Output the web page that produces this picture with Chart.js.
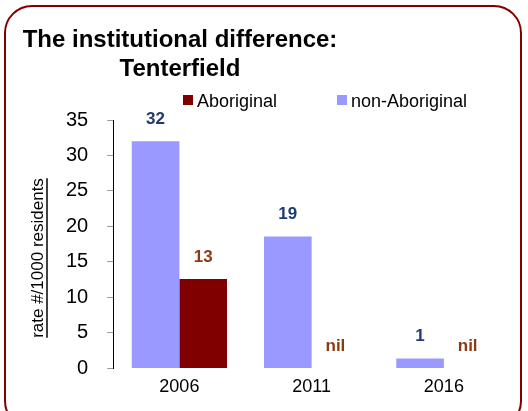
<!DOCTYPE html>
<html lang="en">
<head>
  <meta charset="UTF-8" />
  <title>The institutional difference: Tenterfield</title>
  <script src="https://cdn.jsdelivr.net/npm/chart.js"></script>
  <style>
    body {
      margin: 0;
      background: #fff;
      overflow: hidden;
    }
    .wrap {
      position: relative;
      width: 528px;
      height: 411px;
      overflow: hidden;
    }
    .frame {
      position: absolute;
      left: 4px;
      top: 5px;
      width: 514px;
      height: 420px;
      border: 2.5px solid #800000;
      border-radius: 28px;
      pointer-events: none;
    }
  </style>
</head>
<body>
  <div class="wrap">
    <canvas id="chart" width="528" height="411"></canvas>
    <div class="frame"></div>
  </div>

  <script>
    const years = ["2006", "2011", "2016"];
    const nonAboriginal = [32, 18.6, 1.4];
    const aboriginal = [12.6, 0, 0];
    const titleLines = ["The institutional difference:", "Tenterfield"];
    const axisTitle = "rate #/1000 residents";

    const FONT = '"Liberation Sans", Arial, sans-serif';
    Chart.defaults.font.family = FONT;
    Chart.defaults.color = "#000";

    // value labels above bars, "nil" where rate is zero
    const valueLabels = {
      id: "valueLabels",
      afterDatasetsDraw(chart) {
        const ctx = chart.ctx;
        ctx.save();
        ctx.font = "bold 17px " + FONT;
        ctx.textAlign = "center";
        ctx.textBaseline = "middle";
        chart.data.datasets.forEach((ds, i) => {
          ctx.fillStyle = ds.labelColor;
          chart.getDatasetMeta(i).data.forEach((bar, j) => {
            const v = ds.data[j];
            const txt = v === 0 ? "nil" : String(Math.round(v));
            ctx.fillText(txt, bar.x, bar.y - 22);
          });
        });
        ctx.restore();
      }
    };

    // title, legend and underlined axis title
    const decorations = {
      id: "decorations",
      afterDraw(chart) {
        const ctx = chart.ctx;
        ctx.save();
        ctx.fillStyle = "#000";
        ctx.textAlign = "center";
        ctx.textBaseline = "alphabetic";
        ctx.font = "bold 24px " + FONT;
        ctx.fillText(titleLines[0], 180, 47);
        ctx.fillText(titleLines[1], 180, 76);

        // legend: Aboriginal first
        ctx.font = "18px " + FONT;
        ctx.textAlign = "left";
        const order = [1, 0];
        const xs = [183, 337];
        order.forEach((di, k) => {
          const ds = chart.data.datasets[di];
          ctx.fillStyle = ds.backgroundColor;
          ctx.fillRect(xs[k], 95, 10, 10);
          ctx.fillStyle = "#000";
          ctx.fillText(ds.label, xs[k] + 14, 107);
        });

        // y axis title with underline
        ctx.translate(43, 258);
        ctx.rotate(-Math.PI / 2);
        ctx.font = "17px " + FONT;
        ctx.textAlign = "center";
        ctx.fillText(axisTitle, 0, 0);
        const w = ctx.measureText(axisTitle).width;
        ctx.strokeStyle = "#000";
        ctx.lineWidth = 1.5;
        ctx.beginPath();
        ctx.moveTo(-w / 2, 4);
        ctx.lineTo(w / 2, 4);
        ctx.stroke();
        ctx.restore();
      }
    };

    new Chart(document.getElementById("chart"), {
      type: "bar",
      data: {
        labels: years,
        datasets: [
          {
            label: "non-Aboriginal",
            data: nonAboriginal,
            backgroundColor: "#9999FF",
            labelColor: "#1F3A73"
          },
          {
            label: "Aboriginal",
            data: aboriginal,
            backgroundColor: "#800000",
            labelColor: "#8B3A12"
          }
        ]
      },
      options: {
        responsive: false,
        animation: false,
        categoryPercentage: 0.72,
        barPercentage: 1.0,
        layout: {
          padding: { left: 47, right: 18, top: 120, bottom: 5 }
        },
        scales: {
          x: {
            grid: { display: false, drawTicks: false },
            border: { display: false },
            ticks: { font: { size: 18 }, color: "#000", padding: 8 }
          },
          y: {
            min: 0,
            max: 35,
            ticks: { stepSize: 5, font: { size: 20 }, color: "#000", padding: 19 },
            grid: { drawOnChartArea: false, color: "#999", tickLength: 6 },
            border: { color: "#000", width: 1 }
          }
        },
        plugins: {
          legend: { display: false },
          title: { display: false },
          tooltip: { enabled: false }
        }
      },
      plugins: [valueLabels, decorations]
    });
  </script>
</body>
</html>
